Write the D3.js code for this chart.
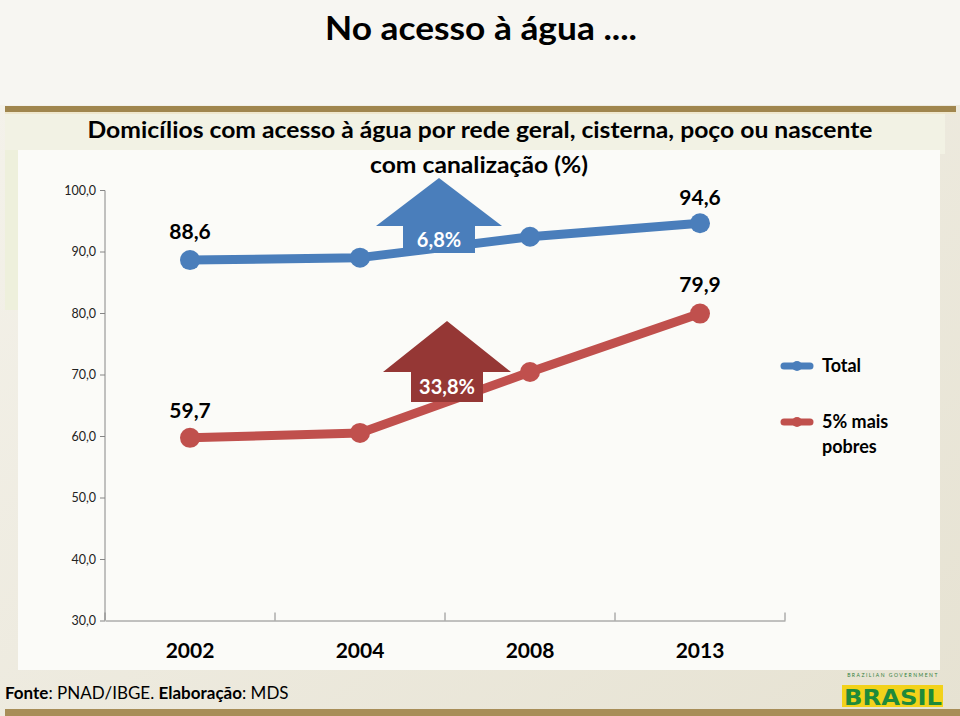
<!DOCTYPE html>
<html><head><meta charset="utf-8">
<script src="https://cdn.jsdelivr.net/npm/d3@7"></script>
<style>body{margin:0;background:#fff}svg{display:block}text{font-family:Lato,"Open Sans",sans-serif}</style>
</head><body>
<svg id="c" width="960" height="716"></svg>
<script>
const years = ["2002","2004","2008","2013"];
const totalValues = [88.6, 89.0, 92.4, 94.6];
const poorValues = [59.7, 60.5, 70.4, 79.9];
const yTicks = [30,40,50,60,70,80,90,100];
const seriesNames = ["Total","5% mais pobres"];
const growthLabels = ["6,8%","33,8%"];
const fmt = v => v.toFixed(1).replace(".", ",");

const svg = d3.select("#c");
// background
const bg = svg.append("defs");
const lg = bg.append("linearGradient").attr("id","bgg").attr("x1",0).attr("y1",0).attr("x2",1).attr("y2",1);
lg.append("stop").attr("offset","0%").attr("stop-color","#f5f3ec");
lg.append("stop").attr("offset","100%").attr("stop-color","#e6e2d2");
svg.append("rect").attr("width",960).attr("height",716).attr("fill","url(#bgg)");
svg.append("rect").attr("width",960).attr("height",105).attr("fill","#f7f6f2");
svg.append("rect").attr("x",5).attr("y",106).attr("width",951).attr("height",6).attr("fill","#a0864e");
svg.append("rect").attr("x",5).attr("y",112).attr("width",951).attr("height",2).attr("fill","#efe7cd");
svg.append("rect").attr("x",5).attr("y",114).attr("width",940).attr("height",40).attr("fill","#f2f2e4");
svg.append("rect").attr("x",5).attr("y",150).attr("width",13).attr("height",160).attr("fill","#eef0dc");
svg.append("rect").attr("x",18).attr("y",150).attr("width",922).attr("height",520).attr("fill","#fbfbf8");
svg.append("rect").attr("x",5).attr("y",709).attr("width",955).attr("height",7).attr("fill","#a88e58");

// main title
svg.append("text").attr("x",481).attr("y",40).attr("text-anchor","middle")
  .attr("font-size",33).attr("font-weight","bold").attr("fill","#000")
  .attr("textLength",312).attr("lengthAdjust","spacingAndGlyphs").text("No acesso à água ....");

// chart title
svg.append("text").attr("x",480).attr("y",138).attr("text-anchor","middle")
  .attr("font-size",22).attr("font-weight","bold").attr("fill","#000")
  .attr("textLength",785).attr("lengthAdjust","spacingAndGlyphs")
  .text("Domicílios com acesso à água por rede geral, cisterna, poço ou nascente");
svg.append("text").attr("x",479).attr("y",173).attr("text-anchor","middle")
  .attr("font-size",22).attr("font-weight","bold").attr("fill","#000")
  .attr("textLength",218).attr("lengthAdjust","spacingAndGlyphs")
  .text("com canalização (%)");

const x = d3.scaleBand().domain(years).range([105,785]);
const y = d3.scaleLinear().domain([30,100]).range([620.5,190]);

// y axis
const ya = svg.append("g").attr("transform","translate(105,0)")
  .call(d3.axisLeft(y).tickValues(yTicks).tickSize(5).tickFormat(fmt));
ya.selectAll("path,line").attr("stroke","#868686");
ya.selectAll("text").attr("font-size",12.5).attr("fill","#222").attr("x",-9).style("font-family","Lato,sans-serif");
ya.select(".domain").attr("d","M-5,190.5H0V620.5");

// x axis
const xa = svg.append("g").attr("transform","translate(0,620.5)")
  .call(d3.axisBottom(x).tickSize(0).tickFormat(""));
xa.selectAll("path").attr("stroke","#868686");
xa.selectAll(".tick").remove();
const bounds = [...years.map(d=>x(d)), x(years[years.length-1])+x.bandwidth()];
xa.selectAll("line.tk").data(bounds).join("line").attr("class","tk")
  .attr("x1",d=>d).attr("x2",d=>d).attr("y1",-8).attr("y2",0).attr("stroke","#868686");
svg.selectAll("text.yr").data(years).join("text").attr("class","yr")
  .attr("x",d=>x(d)+x.bandwidth()/2).attr("y",658).attr("text-anchor","middle")
  .attr("font-size",21).attr("font-weight","bold").attr("fill","#000").text(d=>d);

const cx = d => x(d)+x.bandwidth()/2;
const line = d3.line().x((d,i)=>cx(years[i])).y(d=>y(d));

function drawSeries(vals,color){
  svg.append("path").datum(vals).attr("d",line).attr("fill","none")
    .attr("stroke",color).attr("stroke-width",9).attr("stroke-linejoin","round");
  svg.selectAll(null).data(vals).join("circle").attr("cx",(d,i)=>cx(years[i])).attr("cy",d=>y(d))
    .attr("r",10).attr("fill",color);
}

function arrow(tipX,tipY,wingY,halfWing,halfStem,bottomY,color,label){
  const pts=[[tipX,tipY],[tipX+halfWing,wingY],[tipX+halfStem,wingY],[tipX+halfStem,bottomY],
             [tipX-halfStem,bottomY],[tipX-halfStem,wingY],[tipX-halfWing,wingY]];
  svg.append("polygon").attr("points",pts.map(p=>p.join(",")).join(" ")).attr("fill",color);
  svg.append("text").attr("x",tipX).attr("y",(wingY+bottomY)/2+7).attr("text-anchor","middle")
    .attr("font-size",20).attr("font-weight","bold").attr("fill","#fff").text(label);
}

drawSeries(totalValues,"#4a7ebb");
drawSeries(poorValues,"#c0504d");
arrow(439,178,226,63,36,253,"#4a7ebb",growthLabels[0]);
arrow(447,321,372,64,36,402,"#953735",growthLabels[1]);

// data labels
const lab = (i,v,dy)=> svg.append("text").attr("x",cx(years[i])).attr("y",y(v)+dy)
  .attr("text-anchor","middle").attr("font-size",21).attr("font-weight","bold").attr("fill","#000").text(fmt(v));
lab(0,totalValues[0],-21); lab(3,totalValues[3],-18);
lab(0,poorValues[0],-20); lab(3,poorValues[3],-22);

// legend
const leg = [{c:"#4a7ebb",y:366,lines:[seriesNames[0]]},{c:"#c0504d",y:422,lines:["5% mais","pobres"]}];
leg.forEach(l=>{
  svg.append("line").attr("x1",784).attr("x2",810).attr("y1",l.y).attr("y2",l.y)
    .attr("stroke",l.c).attr("stroke-width",7).attr("stroke-linecap","round");
  svg.append("circle").attr("cx",797).attr("cy",l.y).attr("r",5).attr("fill",l.c);
  l.lines.forEach((t,j)=>svg.append("text").attr("x",822).attr("y",l.y+6+j*25)
    .attr("font-size",18).attr("font-weight","bold").attr("fill","#000").text(t));
});

// footer
const ft = svg.append("text").attr("x",5).attr("y",699).attr("font-size",17).attr("fill","#000");
ft.append("tspan").attr("font-weight","bold").text("Fonte");
ft.append("tspan").text(": PNAD/IBGE. ");
ft.append("tspan").attr("font-weight","bold").text("Elaboração");
ft.append("tspan").text(": MDS");

// logo
const lgG = svg.append("g").attr("transform","translate(843,675)");
lgG.append("text").attr("x",50).attr("y",2).attr("text-anchor","middle").attr("font-size",5)
  .attr("fill","#2f7d3a").attr("letter-spacing",1.5).text("BRAZILIAN GOVERNMENT");
lgG.append("rect").attr("x",-1).attr("y",10).attr("width",101).attr("height",22).attr("fill","#f2d21a");
lgG.append("text").attr("x",50).attr("y",30).attr("text-anchor","middle").attr("font-size",22)
  .attr("font-weight","900").attr("fill","#1f8a3a").attr("textLength",98).attr("lengthAdjust","spacingAndGlyphs")
  .style("font-family","'DejaVu Sans',sans-serif").text("BRASIL");
</script>
</body></html>
